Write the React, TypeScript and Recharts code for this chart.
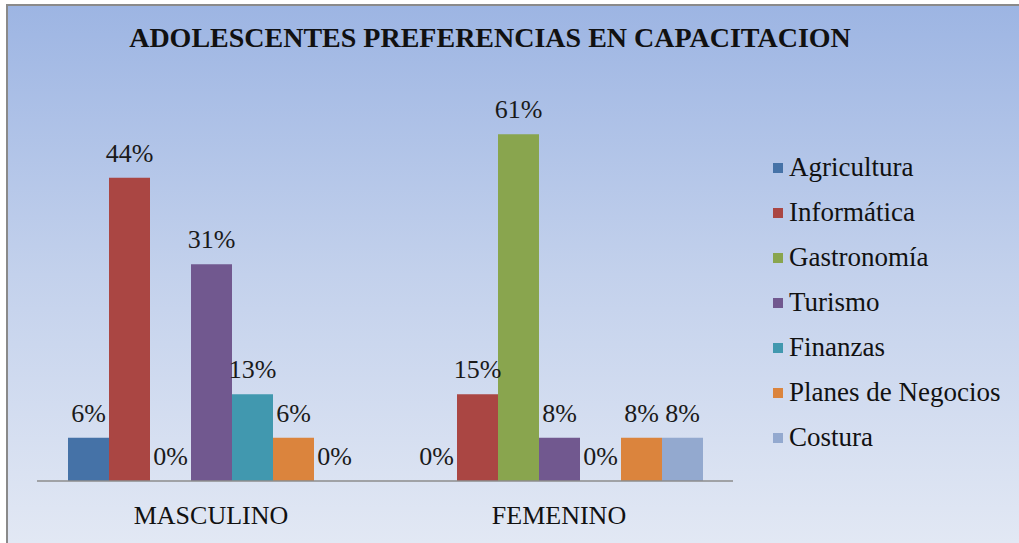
import React from 'react';
import { BarChart, Bar, XAxis, YAxis, LabelList } from 'recharts';

const categories = ['MASCULINO', 'FEMENINO'];
const seriesNames = ['Agricultura', 'Informática', 'Gastronomía', 'Turismo', 'Finanzas', 'Planes de Negocios', 'Costura'];
// bar heights (respondent counts) per series: [MASCULINO, FEMENINO]
const agricultura = [1, 0];
const informatica = [7, 2];
const gastronomia = [0, 8];
const turismo = [5, 1];
const finanzas = [2, 0];
const planes = [1, 1];
const costura = [0, 1];
// percentage labels shown above the bars
const agriculturaPct = [6, 0];
const informaticaPct = [44, 15];
const gastronomiaPct = [0, 61];
const turismoPct = [31, 8];
const finanzasPct = [13, 0];
const planesPct = [6, 8];
const costuraPct = [0, 8];
const colors = ['#4572A7', '#AA4643', '#89A54E', '#71588F', '#4198AF', '#DB843D', '#93A9CF'];

const seriesValues = [agricultura, informatica, gastronomia, turismo, finanzas, planes, costura];
const seriesPct = [agriculturaPct, informaticaPct, gastronomiaPct, turismoPct, finanzasPct, planesPct, costuraPct];
const keys = ['s0', 's1', 's2', 's3', 's4', 's5', 's6'];

const data = categories.map((name, i) => {
  const row: Record<string, string | number> = { name };
  seriesValues.forEach((vals, j) => {
    row[keys[j]] = vals[i];
    row[keys[j] + 'p'] = seriesPct[j][i];
  });
  return row;
});

const font = '"Liberation Serif", "Times New Roman", serif';

// label drawn above the bar, also for zero values
const PctLabel = (props: any) => {
  const { x, y, width, value } = props;
  if (x == null || y == null) return null;
  return (
    <text
      x={Number(x) + Number(width) / 2}
      y={Number(y) - 16}
      textAnchor="middle"
      fill="#1a1a1a"
      fontSize={26}
      fontFamily={font}
    >
      {`${value}%`}
    </text>
  );
};

export default function App() {
  return (
    <div style={{ position: 'absolute', left: 0, top: 0, width: 1019, height: 543, background: '#fff' }}>
      <div
        style={{
          position: 'absolute',
          left: 6,
          top: 4,
          width: 1013,
          height: 539,
          boxSizing: 'border-box',
          borderLeft: '2px solid #8a8a8a',
          borderTop: '2px solid #8a8a8a',
          background: 'linear-gradient(to bottom, #9db5e3 0%, #c3d1ec 50%, #e2e8f4 100%)',
        }}
      />
      <div
        style={{
          position: 'absolute',
          left: 0,
          width: 980,
          top: 22,
          textAlign: 'center',
          fontFamily: font,
          fontWeight: 'bold',
          fontSize: 28,
          color: '#111',
        }}
      >
        ADOLESCENTES PREFERENCIAS EN CAPACITACION
      </div>
      <div style={{ position: 'absolute', left: 773, top: 145, fontFamily: font, fontSize: 27, color: '#111' }}>
        {seriesNames.map((n, i) => (
          <div key={n} style={{ height: 45, display: 'flex', alignItems: 'center' }}>
            <span style={{ width: 10, height: 10, background: colors[i], marginRight: 6, display: 'inline-block' }} />
            <span>{n}</span>
          </div>
        ))}
      </div>
      <div style={{ position: 'absolute', left: 0, top: 0 }}>
        <BarChart
          width={1019}
          height={543}
          data={data}
          margin={{ top: 91, right: 286, left: 37, bottom: 12 }}
          barCategoryGap={31}
          barGap={0}
        >
          <XAxis
            dataKey="name"
            axisLine={{ stroke: '#8c8c8c', strokeWidth: 1.5 }}
            tickLine={false}
            height={50}
            tick={{ fill: '#111', fontSize: 26, fontFamily: font }}
            dy={17}
          />
          <YAxis hide domain={[0, 9]} />
          {keys.map((k, i) => (
            <Bar
              key={k}
              dataKey={k}
              name={seriesNames[i]}
              fill={colors[i]}
              minPointSize={0.1}
              isAnimationActive={false}
            >
              <LabelList dataKey={k + 'p'} content={<PctLabel />} />
            </Bar>
          ))}
        </BarChart>
      </div>
    </div>
  );
}
